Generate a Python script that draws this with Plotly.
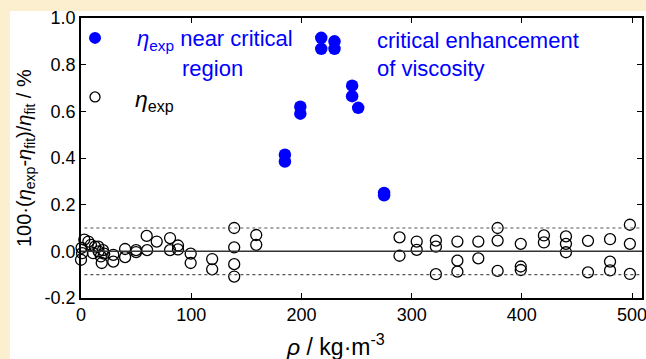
import plotly.graph_objects as go

# Near-critical-region data (blue filled)
crit_rho = [185, 185, 199, 199, 218, 218, 230, 230, 246, 246, 251.5, 275, 275]
crit_dev = [0.414, 0.385, 0.62, 0.59, 0.915, 0.868, 0.90, 0.868, 0.71, 0.665, 0.615, 0.25, 0.24]

# Other experimental data (open circles)
exp_rho = [0, 0.5, 1, 3, 6.7, 9, 11, 12.7, 15.7, 16, 18, 18.8, 21, 20,
           29.3, 29.3, 40, 40, 50, 50, 59.6, 60, 68.7, 80.8, 80.8, 88, 88,
           99.5, 99.5, 119, 119, 139, 139, 139, 139, 159, 159,
           289, 289, 304.6, 304.6, 322, 322, 322, 341.5, 341.5, 341.5,
           360.5, 360.5, 378, 378, 378, 399, 399, 399, 420, 420,
           440, 440, 440, 460, 460, 480, 480, 480, 498, 498, 498]
exp_dev = [-0.036, 0.015, -0.008, 0.05, 0.042, 0.028, -0.008, 0.02, 0.02, 0.0, -0.022, -0.05, -0.01, 0.005,
           -0.015, -0.044, 0.01, -0.025, 0.005, -0.003, 0.066, 0.005, 0.042, 0.057, 0.005, 0.025, 0.008,
           -0.01, -0.05, -0.033, -0.077, 0.1, 0.017, -0.055, -0.108, 0.07, 0.028,
           0.06, -0.019, 0.042, 0.006, 0.046, 0.02, -0.098, 0.042, -0.04, -0.087,
           0.042, -0.03, 0.1, 0.046, -0.084, 0.032, -0.065, -0.08, 0.068, 0.038,
           0.064, 0.032, -0.004, 0.045, -0.09, 0.052, -0.044, -0.082, 0.114, 0.032, -0.097]

x_ticks = [0, 100, 200, 300, 400, 500]
x_tick_labels = ["0", "100", "200", "300", "400", "500"]
y_ticks = [-0.2, 0.0, 0.2, 0.4, 0.6, 0.8, 1.0]
y_tick_labels = ["-0.2", "0.0", "0.2", "0.4", "0.6", "0.8", "1.0"]

BLUE = "#0000FF"
CREAM = "#FCEFD0"
FONT = "Liberation Sans, Arial, sans-serif"

fig = go.Figure()
fig.add_trace(go.Scatter(x=exp_rho, y=exp_dev, mode="markers", cliponaxis=False,
                         marker=dict(symbol="circle-open", size=11, color="black",
                                     line=dict(width=1.3, color="black")),
                         showlegend=False))
fig.add_trace(go.Scatter(x=crit_rho, y=crit_dev, mode="markers", cliponaxis=False,
                         marker=dict(symbol="circle", size=12.5, color=BLUE,
                                     line=dict(width=0)),
                         showlegend=False))

shapes = [
    # white figure panel on cream page
    dict(type="rect", xref="paper", yref="paper", x0=-0.1266, x1=1.03, y0=-0.25, y1=1.025,
         fillcolor="white", line=dict(width=0), layer="below"),
    dict(type="line", xref="paper", yref="y", x0=0, x1=1, y0=0, y1=0,
         line=dict(color="#333333", width=1.5)),
    dict(type="line", xref="paper", yref="y", x0=0.006, x1=1, y0=0.1, y1=0.1,
         line=dict(color="#555555", width=1.1, dash="dot")),
    dict(type="line", xref="paper", yref="y", x0=0.006, x1=1, y0=-0.1, y1=-0.1,
         line=dict(color="#555555", width=1.1, dash="dot")),
    # legend markers
    dict(type="circle", xref="paper", yref="paper", xsizemode="pixel", ysizemode="pixel",
         xanchor=0.025, yanchor=0.929, x0=-6, x1=6, y0=-6, y1=6,
         fillcolor=BLUE, line=dict(width=0)),
    dict(type="circle", xref="paper", yref="paper", xsizemode="pixel", ysizemode="pixel",
         xanchor=0.025, yanchor=0.718, x0=-5, x1=5, y0=-5, y1=5,
         fillcolor="white", line=dict(width=1.3, color="black")),
]

ann_font_blue = dict(family=FONT, size=22, color=BLUE)
annotations = [
    dict(text="<i>η</i><sub>exp</sub> near critical", x=0.0963, y=0.921, xref="paper", yref="paper",
         xanchor="left", yanchor="middle", showarrow=False, font=ann_font_blue),
    dict(text="region", x=0.1765, y=0.818, xref="paper", yref="paper",
         xanchor="left", yanchor="middle", showarrow=False, font=ann_font_blue),
    dict(text="<i>η</i><sub>exp</sub>", x=0.0927, y=0.707, xref="paper", yref="paper",
         xanchor="left", yanchor="middle", showarrow=False,
         font=dict(family=FONT, size=23, color="black")),
    dict(text="critical enhancement", x=0.524, y=0.921, xref="paper", yref="paper",
         xanchor="left", yanchor="middle", showarrow=False, font=ann_font_blue),
    dict(text="of viscosity", x=0.524, y=0.821, xref="paper", yref="paper",
         xanchor="left", yanchor="middle", showarrow=False, font=ann_font_blue),
    dict(text="<i>ρ</i> / kg·m<sup>-3</sup>", x=0.4545, y=-0.168, xref="paper", yref="paper",
         xanchor="center", yanchor="middle", showarrow=False,
         font=dict(family=FONT, size=23, color="black")),
    dict(text="100·(<i>η</i><sub>exp</sub>-<i>η</i><sub>fit</sub>)/<i>η</i><sub>fit</sub> / %",
         x=-0.0998, y=0.5, xref="paper", yref="paper", textangle=-90,
         xanchor="center", yanchor="middle", showarrow=False,
         font=dict(family=FONT, size=20, color="black")),
]

fig.update_layout(
    width=646, height=359,
    margin=dict(l=81, r=4, t=18, b=61),
    paper_bgcolor=CREAM, plot_bgcolor="white",
    font=dict(family=FONT, size=18, color="black"),
    shapes=shapes, annotations=annotations,
    showlegend=False,
)
fig.update_xaxes(range=[0, 509], tickvals=x_ticks, ticktext=x_tick_labels, ticks="inside",
                 ticklen=5, tickwidth=1.2, tickcolor="black", showline=True, linecolor="black",
                 linewidth=1.5, mirror="ticks", showgrid=False, zeroline=False,
                 automargin=False, ticklabeloverflow="allow", tickfont=dict(size=18))
fig.update_yaxes(range=[-0.2, 1.0], tickvals=y_ticks, ticktext=y_tick_labels, ticks="inside",
                 ticklen=5, tickwidth=1.2, tickcolor="black", showline=True,
                 linecolor="black", linewidth=1.5, mirror="ticks", showgrid=False,
                 zeroline=False, automargin=False, ticklabeloverflow="allow",
                 tickfont=dict(size=18))

fig.write_html("out.html", config={"displayModeBar": False},
               post_script="document.body.style.margin='0px';"
                           "document.body.style.background='#FCEFD0';")
